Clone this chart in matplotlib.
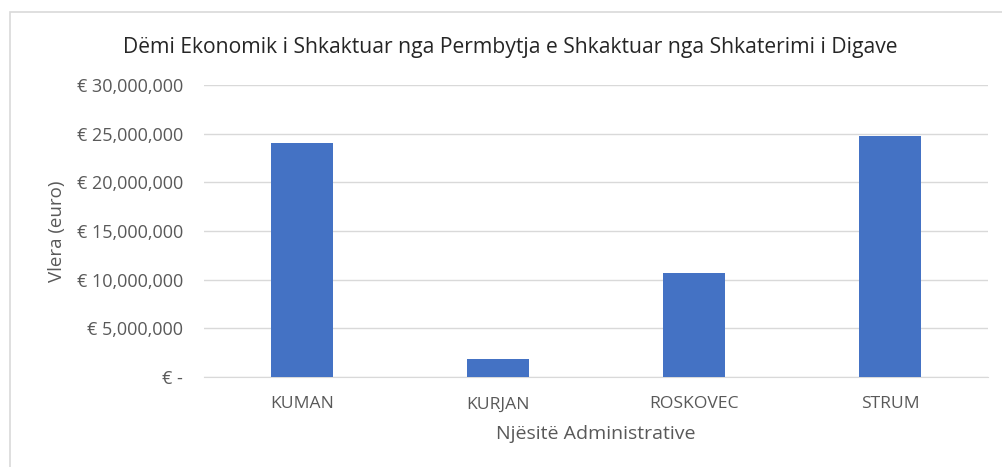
import matplotlib
matplotlib.use("Agg")
import matplotlib.pyplot as plt
from matplotlib.ticker import FuncFormatter
from matplotlib.patches import Rectangle

categories = ["KUMAN", "KURJAN", "ROSKOVEC", "STRUM"]
values = [24_000_000, 1_850_000, 10_650_000, 24_780_000]
y_ticks = [0, 5_000_000, 10_000_000, 15_000_000, 20_000_000, 25_000_000, 30_000_000]

title = "Dëmi Ekonomik i Shkaktuar nga Permbytja e Shkaktuar nga Shkaterimi i Digave"
x_label = "Njësitë Administrative"
y_label = "Vlera (euro)"

plt.rcParams["font.family"] = ["Open Sans", "DejaVu Sans"]

W, H = 1002, 467
fig = plt.figure(figsize=(W / 100, H / 100), dpi=100)
fig.patch.set_facecolor("white")

# chart frame
fig.patches.append(Rectangle((10 / W, -0.1), 1.2, (H - 12) / H + 0.1,
                             transform=fig.transFigure, fill=False,
                             edgecolor="#d9d9d9", linewidth=1.2))

ax = fig.add_axes([204 / W, 90 / H, (988 - 204) / W, (377 - 85) / H])
x = range(len(categories))
ax.bar(x, values, width=0.316, color="#4472C4", zorder=3)

ax.set_xlim(-0.5, len(categories) - 0.5)
ax.set_ylim(0, 30_000_000)
ax.set_yticks(y_ticks)
ax.set_xticks(list(x))
ax.set_xticklabels(categories)

def euro(v, pos):
    if v == 0:
        return "€ -"
    return f"€ {v:,.0f}"

ax.yaxis.set_major_formatter(FuncFormatter(euro))
ax.grid(axis="y", color="#d9d9d9", linewidth=1, zorder=0)
for s in ax.spines.values():
    s.set_visible(False)
ax.spines["bottom"].set_visible(True)
ax.spines["bottom"].set_color("#d9d9d9")
ax.tick_params(axis="both", length=0, colors="#595959")
ax.tick_params(axis="x", pad=14, labelsize=12.6)
ax.tick_params(axis="y", pad=15, labelsize=13)

ax.set_xlabel(x_label, fontsize=14, color="#595959", labelpad=9)
ax.set_ylabel(y_label, fontsize=13.5, color="#595959", labelpad=8)

fig.text(510 / W, 1 - 47 / H, title, ha="center", va="center",
         fontsize=15.2, color="#262626")

fig.savefig("out.png", dpi=100, facecolor="white")
